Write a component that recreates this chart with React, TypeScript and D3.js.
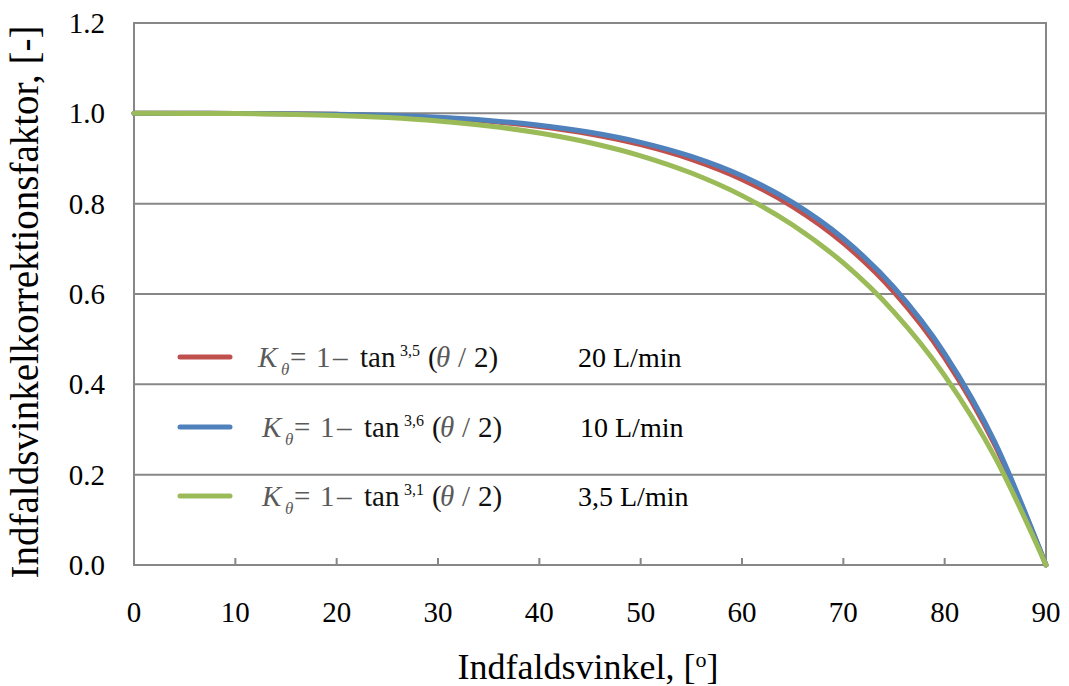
import React, { useEffect, useRef } from 'react';
import * as d3 from 'd3';

// angle of incidence [deg]
const angles = [0, 5, 10, 15, 20, 25, 30, 35, 40, 45, 50, 55, 60, 65, 70, 75, 80, 85, 90];

// correction factor
const k20 = [1.0, 1.0, 0.9998, 0.9992, 0.9977, 0.9949, 0.99, 0.9824, 0.9709, 0.9543, 0.9308, 0.8982, 0.8538, 0.7936, 0.7127, 0.6042, 0.4588, 0.2635, 0.0];
const k10 = [1.0, 1.0, 0.9998, 0.9993, 0.9981, 0.9956, 0.9913, 0.9843, 0.9737, 0.9581, 0.9358, 0.9046, 0.8616, 0.8027, 0.7228, 0.6145, 0.4682, 0.2699, 0.0];
const k35 = [1.0, 0.9999, 0.9995, 0.9981, 0.9954, 0.9906, 0.9831, 0.9721, 0.9564, 0.9349, 0.906, 0.8678, 0.8178, 0.7528, 0.6687, 0.56, 0.4194, 0.2373, 0.0];

const seriesNames = ['20 L/min', '10 L/min', '3,5 L/min'];
const exponents = ['3,5', '3,6', '3,1'];
const colors = ['#C0504D', '#4F81BD', '#9BBB59'];

const xTicks = [0, 10, 20, 30, 40, 50, 60, 70, 80, 90];
const yTicks = [0, 0.2, 0.4, 0.6, 0.8, 1.0, 1.2];

export default function App() {
  const svgRef = useRef<SVGSVGElement>(null);

  useEffect(() => {
    if (!svgRef.current) return;
    const svg = d3.select(svgRef.current);
    svg.selectAll('*').remove();

    const left = 134, right = 1046, top = 23, bottom = 565;

    const x = d3.scaleLinear().domain([0, 90]).range([left, right]);
    const y = d3.scaleLinear().domain([0, 1.2]).range([bottom, top]);

    // grid lines
    svg.append('g')
      .selectAll('line')
      .data(yTicks)
      .join('line')
      .attr('x1', left)
      .attr('x2', right)
      .attr('y1', d => y(d))
      .attr('y2', d => y(d))
      .attr('stroke', '#878787')
      .attr('stroke-width', 2);

    // plot border
    svg.append('rect')
      .attr('x', left)
      .attr('y', top)
      .attr('width', right - left)
      .attr('height', bottom - top)
      .attr('fill', 'none')
      .attr('stroke', '#878787')
      .attr('stroke-width', 2);

    // x ticks (inside)
    svg.append('g')
      .selectAll('line')
      .data(xTicks)
      .join('line')
      .attr('x1', d => x(d))
      .attr('x2', d => x(d))
      .attr('y1', bottom)
      .attr('y2', bottom - 7)
      .attr('stroke', '#878787')
      .attr('stroke-width', 2);

    svg.append('g')
      .selectAll('text')
      .data(xTicks)
      .join('text')
      .attr('x', d => x(d))
      .attr('y', 622)
      .attr('text-anchor', 'middle')
      .style('font-size', '29px')
      .text(d => String(d));

    svg.append('g')
      .selectAll('text')
      .data(yTicks)
      .join('text')
      .attr('x', 105)
      .attr('y', d => y(d) + 10)
      .attr('text-anchor', 'end')
      .style('font-size', '29px')
      .text(d => d.toFixed(1));

    // axis titles
    const xt = svg.append('text')
      .attr('x', 588)
      .attr('y', 679)
      .attr('text-anchor', 'middle')
      .style('font-size', '36px');
    xt.append('tspan').text('Indfaldsvinkel, [');
    xt.append('tspan').attr('dy', -12).style('font-size', '22px').text('o');
    xt.append('tspan').attr('dy', 12).text(']');

    svg.append('text')
      .attr('transform', `translate(38,302) rotate(-90)`)
      .attr('text-anchor', 'middle')
      .style('font-size', '39px')
      .text('Indfaldsvinkelkorrektionsfaktor, [-]');

    // curves
    const line = d3.line<number>()
      .x((_, i) => x(angles[i]))
      .y(d => y(d))
      .curve(d3.curveMonotoneX);

    [k20, k10, k35].forEach((s, i) => {
      svg.append('path')
        .datum(s)
        .attr('fill', 'none')
        .attr('stroke', colors[i])
        .attr('stroke-width', 5)
        .attr('stroke-linecap', 'round')
        .attr('d', line);
    });

    // legend
    const legendY = [357, 427, 496];
    const shift = [0, 4, 4];
    const labelX = [578, 580, 578];
    const grey = '#5a5a5a';
    seriesNames.forEach((name, i) => {
      const g = svg.append('g').attr('transform', `translate(0,${legendY[i]})`);
      g.append('line')
        .attr('x1', 180)
        .attr('x2', 230)
        .attr('stroke', colors[i])
        .attr('stroke-width', 5)
        .attr('stroke-linecap', 'round');
      const s = shift[i];
      const t = g.append('text')
        .attr('y', 10)
        .style('font-size', '29px')
        .attr('fill', '#111');
      t.append('tspan').attr('x', 258 + s).style('font-style', 'italic').attr('fill', grey).text('K');
      t.append('tspan').attr('x', 281 + s).attr('dy', 8).style('font-style', 'italic').attr('fill', grey).style('font-size', '17px').text('θ');
      t.append('tspan').attr('x', 290 + s).attr('dy', -8).attr('fill', grey).text('=');
      t.append('tspan').attr('x', 316 + s).attr('fill', grey).text('1');
      t.append('tspan').attr('x', 333 + s).attr('fill', grey).text('–');
      t.append('tspan').attr('x', 360 + s).text('tan');
      t.append('tspan').attr('x', 400 + s).attr('dy', -11).style('font-size', '16px').text(exponents[i]);
      t.append('tspan').attr('x', 428 + s).attr('dy', 11).text('(');
      t.append('tspan').attr('x', 436 + s).style('font-style', 'italic').attr('fill', grey).text('θ');
      t.append('tspan').attr('x', 458 + s).attr('fill', grey).text('/');
      t.append('tspan').attr('x', 474 + s).text('2)');
      g.append('text')
        .attr('x', labelX[i])
        .attr('y', 10)
        .style('font-size', '28px')
        .text(name);
    });
  }, []);

  return (
    <svg
      ref={svgRef}
      width={1069}
      height={686}
      style={{
        position: 'absolute',
        left: 0,
        top: 0,
        background: '#fff',
        fontFamily: '"Liberation Serif", "Times New Roman", "DejaVu Serif", serif',
      }}
    />
  );
}
